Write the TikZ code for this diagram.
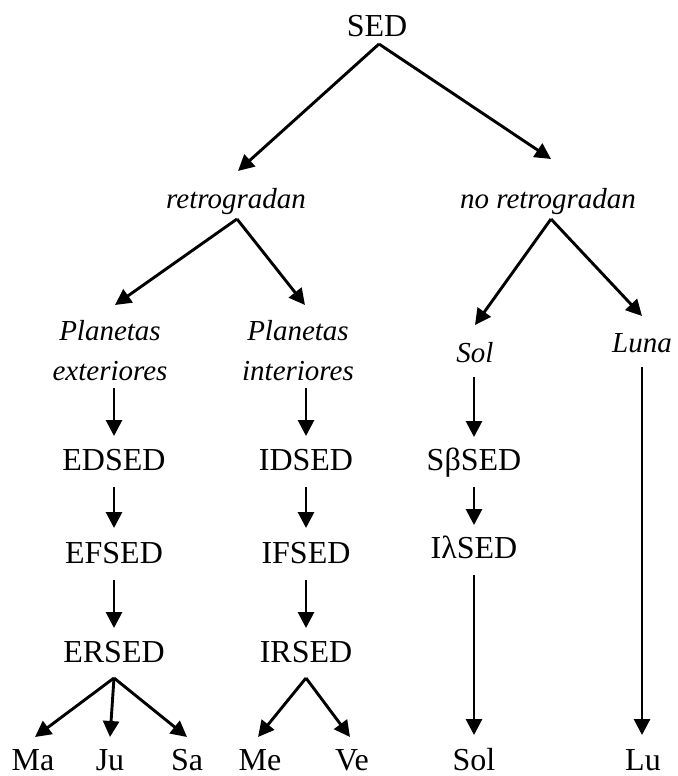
\documentclass[tikz,border=0pt]{standalone}
\usepackage{fontspec}
\setmainfont{Liberation Serif}
\usetikzlibrary{arrows.meta}
\begin{document}
\begin{tikzpicture}[x=1pt,y=-1pt,
  up/.style={anchor=base, inner sep=0pt, font=\fontsize{32}{38}\selectfont},
  it/.style={anchor=base, inner sep=0pt, font=\fontsize{29}{40}\selectfont\itshape},
  arr/.style={line width=2.9pt, -{Triangle[length=16pt,width=16pt]}}]
\useasboundingbox (0,0) rectangle (677,776);
% nodes
\node[up] (sed) at (377,37) {SED};
\node[it] (retro) at (236,208) {retrogradan};
\node[it] (noretro) at (548,208) {no retrogradan};
\node[it] (pext) at (110,340) {\begin{tabular}[t]{@{}c@{}}Planetas\\exteriores\end{tabular}};
\node[it] (pint) at (298,340) {\begin{tabular}[t]{@{}c@{}}Planetas\\interiores\end{tabular}};
\node[it] (solit) at (475,362) {Sol};
\node[it] (luna) at (642,352) {Luna};
\node[up] (edsed) at (114,470) {EDSED};
\node[up] (efsed) at (114,563) {EFSED};
\node[up] (ersed) at (114,662) {ERSED};
\node[up] (idsed) at (306,470) {IDSED};
\node[up] (ifsed) at (306,563) {IFSED};
\node[up] (irsed) at (306,662) {IRSED};
\node[up] (sbsed) at (474,470) {SβSED};
\node[up] (ilsed) at (474,558) {IλSED};
\node[up] (ma) at (33,770) {Ma};
\node[up] (ju) at (110,770) {Ju};
\node[up] (sa) at (187,770) {Sa};
\node[up] (me) at (260,770) {Me};
\node[up] (ve) at (352,770) {Ve};
\node[up] (sol) at (474,770) {Sol};
\node[up] (lu) at (643,770) {Lu};
% connectors
\draw[arr] ([xshift=2pt,yshift=-7pt]sed.base) -- ([xshift=2pt,yshift=37pt]retro.base);
\draw[arr] ([xshift=2pt,yshift=-7pt]sed.base) -- ([xshift=3pt,yshift=49pt]noretro.base);
\draw[arr] ([xshift=1pt,yshift=-11pt]retro.base) -- ([xshift=5pt,yshift=35pt]pext.base);
\draw[arr] ([xshift=1pt,yshift=-11pt]retro.base) -- ([xshift=7pt,yshift=35pt]pint.base);
\draw[arr] ([xshift=3pt,yshift=-11pt]noretro.base) -- ([yshift=37pt]solit.base);
\draw[arr] ([xshift=3pt,yshift=-11pt]noretro.base) -- ([yshift=36pt]luna.base);
\draw[arr] ([xshift=4pt,yshift=-48pt]pext.base) -- ([yshift=34pt]edsed.base);
\draw[arr] ([yshift=-17pt]edsed.base) -- ([yshift=35pt]efsed.base);
\draw[arr] ([yshift=-17pt]efsed.base) -- ([yshift=34pt]ersed.base);
\draw[arr] ([yshift=-16pt]ersed.base) -- ([xshift=2pt,yshift=33pt]ma.base);
\draw[arr] ([yshift=-16pt]ersed.base) -- ([yshift=33pt]ju.base);
\draw[arr] ([yshift=-16pt]ersed.base) -- ([yshift=33pt]sa.base);
\draw[arr] ([xshift=8pt,yshift=-48pt]pint.base) -- ([yshift=34pt]idsed.base);
\draw[arr] ([yshift=-17pt]idsed.base) -- ([yshift=35pt]ifsed.base);
\draw[arr] ([yshift=-17pt]ifsed.base) -- ([yshift=34pt]irsed.base);
\draw[arr] ([yshift=-16pt]irsed.base) -- ([xshift=-2pt,yshift=33pt]me.base);
\draw[arr] ([yshift=-16pt]irsed.base) -- ([xshift=-2pt,yshift=33pt]ve.base);
\draw[arr] ([xshift=-1pt,yshift=-15pt]solit.base) -- ([yshift=33pt]sbsed.base);
\draw[arr] ([yshift=-17pt]sbsed.base) -- ([yshift=33pt]ilsed.base);
\draw[arr] ([yshift=-17pt]ilsed.base) -- ([yshift=35pt]sol.base);
\draw[arr] ([yshift=-15pt]luna.base) -- ([xshift=-1pt,yshift=35pt]lu.base);
\end{tikzpicture}
\end{document}
